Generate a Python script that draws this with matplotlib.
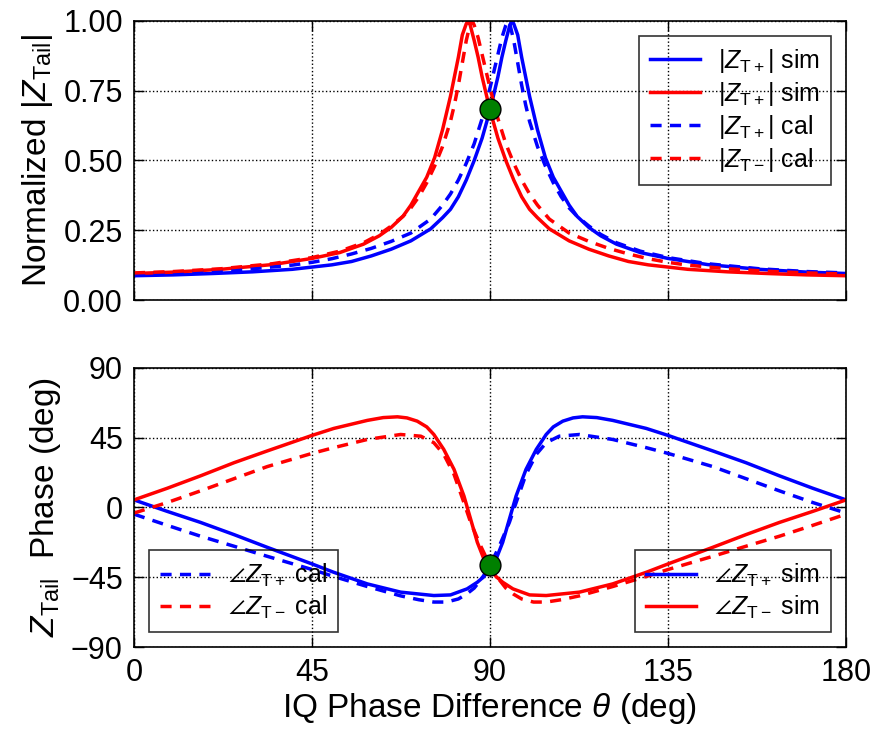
import matplotlib
matplotlib.use("Agg")
import matplotlib.pyplot as plt

plt.rcParams['font.family'] = ['Liberation Sans', 'DejaVu Sans']
plt.rcParams['mathtext.fontset'] = 'custom'
plt.rcParams['mathtext.rm'] = 'Liberation Sans'
plt.rcParams['mathtext.it'] = 'Liberation Sans:italic'
plt.rcParams['mathtext.fallback'] = 'stixsans'

# ---- top panel: normalized |Z_Tail| ----
mag_sim_p_x = [0, 10, 20, 30, 40, 50, 55, 60, 65, 70, 75, 78, 80, 82, 84, 86, 88, 89, 90,
               91, 92, 93, 94, 95, 95.5, 96, 97, 98, 99, 100, 101, 102, 104, 106, 108, 110,
               112, 115, 118, 122, 128, 135, 145, 158, 170, 180]
mag_sim_p = [0.087, 0.090, 0.095, 0.101, 0.110, 0.126, 0.138, 0.158, 0.182, 0.212, 0.255,
             0.295, 0.325, 0.37, 0.43, 0.50, 0.58, 0.63, 0.68, 0.74, 0.80, 0.87, 0.93, 0.985,
             1.0, 0.99, 0.95, 0.87, 0.80, 0.73, 0.67, 0.61, 0.51, 0.44, 0.39, 0.34, 0.30,
             0.26, 0.23, 0.20, 0.17, 0.149, 0.127, 0.11, 0.10, 0.095]

mag_sim_m_x = [0, 10, 22, 35, 45, 52, 58, 62, 65, 68, 70, 72, 74, 76, 78, 79, 80, 81, 82, 83,
               84, 84.5, 85, 86, 87, 88, 89, 90, 91, 92, 94, 96, 98, 100, 102, 105, 110, 115,
               120, 125, 130, 140, 150, 160, 170, 180]
mag_sim_m = [0.095, 0.10, 0.11, 0.127, 0.149, 0.17, 0.20, 0.23, 0.26, 0.30, 0.34, 0.39, 0.44,
             0.51, 0.61, 0.67, 0.73, 0.80, 0.87, 0.95, 0.99, 1.0, 0.985, 0.93, 0.87, 0.80,
             0.74, 0.68, 0.63, 0.58, 0.50, 0.43, 0.37, 0.325, 0.295, 0.255, 0.212, 0.182,
             0.158, 0.138, 0.126, 0.110, 0.101, 0.095, 0.090, 0.087]

mag_cal_p_x = [0, 10, 20, 30, 40, 45, 50, 55, 60, 65, 70, 72, 75, 78, 80, 82, 84, 86, 88, 90,
               91, 92, 93, 94, 94.5, 95, 96, 97, 98, 99, 100, 102, 104, 106, 108, 110, 112,
               115, 118, 122, 128, 135, 145, 158, 170, 180]
mag_cal_p = [0.093, 0.097, 0.103, 0.112, 0.125, 0.135, 0.148, 0.165, 0.185, 0.21, 0.24, 0.26,
             0.29, 0.34, 0.38, 0.43, 0.49, 0.56, 0.65, 0.76, 0.82, 0.88, 0.94, 0.985, 1.0,
             0.99, 0.93, 0.85, 0.77, 0.70, 0.64, 0.55, 0.48, 0.42, 0.37, 0.33, 0.30, 0.265,
             0.235, 0.205, 0.175, 0.152, 0.13, 0.112, 0.102, 0.097]

mag_cal_m_x = [0, 10, 22, 35, 45, 52, 58, 62, 65, 68, 70, 72, 74, 76, 78, 80, 81, 82, 83, 84,
               85, 85.5, 86, 87, 88, 89, 90, 92, 94, 96, 98, 100, 102, 105, 108, 110, 115, 120,
               125, 130, 135, 140, 150, 160, 170, 180]
mag_cal_m = [0.097, 0.102, 0.112, 0.13, 0.152, 0.175, 0.205, 0.235, 0.265, 0.30, 0.33, 0.37,
             0.42, 0.48, 0.55, 0.64, 0.70, 0.77, 0.85, 0.93, 0.99, 1.0, 0.985, 0.94, 0.88,
             0.82, 0.76, 0.65, 0.56, 0.49, 0.43, 0.38, 0.34, 0.29, 0.26, 0.24, 0.21, 0.185,
             0.165, 0.148, 0.135, 0.125, 0.112, 0.103, 0.097, 0.093]

# ---- bottom panel: phase of Z_Tail (deg) ----
ph_sim_p_x = [0, 8.4, 16.8, 25.3, 33.7, 45, 50.5, 59, 67.4, 75.8, 80, 84.2, 86.8, 88.5, 90,
              91.5, 93.2, 94.9, 96.6, 99.1, 101.7, 104.2, 106, 108.4, 111, 113.4, 117, 121,
              129.5, 135, 146.3, 154.7, 163.2, 171.6, 180]
ph_sim_p = [4.9, -2.5, -9.6, -17.5, -25.7, -36.4, -41.8, -49.3, -54.6, -56.8, -56.4, -52.5,
            -48.2, -44.5, -39, -33.5, -22.5, -7.5, 7.5, 24.6, 37.5, 47.1, 52, 55.7, 57.8, 58.5,
            58, 56.2, 51, 46.5, 36.5, 28.9, 20.4, 12.4, 4.9]

ph_sim_m_x = [0, 8.4, 16.8, 25.3, 33.7, 45, 50.5, 59, 63, 66.6, 69, 71.6, 74, 75.8, 78.3,
              80.9, 83.4, 85.1, 86.8, 88.5, 90, 91.5, 93.2, 95.8, 100, 104.2, 112.6, 121,
              129.5, 135, 146.3, 154.7, 163.2, 171.6, 180]
ph_sim_m = [4.9, 12.4, 20.4, 28.9, 36.5, 46.5, 51, 56.2, 58, 58.5, 57.8, 55.7, 52, 47.1, 37.5,
            24.6, 7.5, -7.5, -22.5, -33.5, -39, -44.5, -48.2, -52.5, -56.4, -56.8, -54.6,
            -49.3, -41.8, -36.4, -25.7, -17.5, -9.6, -2.5, 4.9]

ph_cal_p_x = [0, 8.4, 16.8, 25.3, 33.7, 45, 50.5, 59, 67.4, 72, 75.8, 79, 82, 84, 86, 88, 90,
              92.4, 94.9, 96.6, 99.1, 101.7, 104.2, 107.5, 112.6, 121, 129.5, 135, 146.3,
              154.7, 163.2, 171.6, 180]
ph_cal_p = [-4.3, -11.5, -18.5, -25, -31.5, -40, -44.5, -51, -57, -59.5, -61, -61, -59, -56,
            -52, -45.5, -37.5, -24.6, -9.6, 3.2, 21.4, 34.3, 41.8, 46, 47.1, 43.9, 38.6, 34.9,
            26.4, 18.6, 10.7, 3.2, -3.6]

ph_cal_m_x = [0, 8.4, 16.8, 25.3, 33.7, 45, 50.5, 59, 67.4, 72.5, 75.8, 78.3, 80.9, 83.4,
              85.1, 87.6, 90, 92, 94, 96, 98, 101, 104.2, 108, 112.6, 121, 129.5, 135, 146.3,
              154.7, 163.2, 171.6, 180]
ph_cal_m = [-3.6, 3.2, 10.7, 18.6, 26.4, 34.9, 38.6, 43.9, 47.1, 46, 41.8, 34.3, 21.4, 3.2,
            -9.6, -24.6, -37.5, -45.5, -52, -56, -59, -61, -61, -59.5, -57, -51, -44.5, -40,
            -31.5, -25, -18.5, -11.5, -4.3]

# crossing markers
dot_x = [90]
dot_mag = [0.683]
dot_ph = [-37]

xticks = [0, 45, 90, 135, 180]
mag_ticks = [0.0, 0.25, 0.5, 0.75, 1.0]
ph_ticks = [-90, -45, 0, 45, 90]

lw = 2.5
dash = (0, (3.2, 2.4))
fs_tick = 22
fs_label = 24
fs_leg = 18

fig = plt.figure(figsize=(8.78, 7.31), dpi=100)
ax1 = fig.add_axes([0.1526, 0.5896, 0.8110, 0.3817])
ax2 = fig.add_axes([0.1526, 0.1149, 0.8110, 0.3817])

ax1.plot(mag_sim_p_x, mag_sim_p, color='blue', lw=lw, label=r'$|Z_{\rm T+}|$ sim')
ax1.plot(mag_sim_m_x, mag_sim_m, color='red', lw=lw, label=r'$|Z_{\rm T+}|$ sim')
ax1.plot(mag_cal_p_x, mag_cal_p, color='blue', lw=lw, ls=dash, label=r'$|Z_{\rm T+}|$ cal')
ax1.plot(mag_cal_m_x, mag_cal_m, color='red', lw=lw, ls=dash, label=r'$|Z_{\rm T-}|$ cal')
ax1.plot(dot_x, dot_mag, 'o', color='green', mec='black', mew=1, ms=15, zorder=5)

sp, = ax2.plot(ph_sim_p_x, ph_sim_p, color='blue', lw=lw, label=r'$\angle Z_{\rm T+}$ sim')
sm, = ax2.plot(ph_sim_m_x, ph_sim_m, color='red', lw=lw, label=r'$\angle Z_{\rm T-}$ sim')
cp, = ax2.plot(ph_cal_p_x, ph_cal_p, color='blue', lw=lw, ls=dash, label=r'$\angle Z_{\rm T+}$ cal')
cm, = ax2.plot(ph_cal_m_x, ph_cal_m, color='red', lw=lw, ls=dash, label=r'$\angle Z_{\rm T-}$ cal')
ax2.plot(dot_x, dot_ph, 'o', color='green', mec='black', mew=1, ms=15, zorder=5)

for ax in (ax1, ax2):
    ax.set_xlim(0, 180)
    ax.set_xticks(xticks)
    ax.grid(True, color='black', linestyle=':', linewidth=1)
    ax.tick_params(direction='in', top=True, right=True, length=7, width=1,
                   labelsize=fs_tick, pad=8)
    for s in ax.spines.values():
        s.set_linewidth(1.2)

ax1.set_ylim(0, 1)
ax1.set_yticks(mag_ticks)
ax1.set_yticklabels(['0.00', '0.25', '0.50', '0.75', '1.00'])
ax1.tick_params(labelbottom=False)
ax1.set_ylabel(r'Normalized $|Z_{\rm Tail}|$', fontsize=fs_label, labelpad=6)

ax2.set_ylim(-90, 90)
ax2.set_yticks(ph_ticks)
ax2.set_ylabel(r'$Z_{\rm Tail}$  Phase (deg)', fontsize=fs_label, labelpad=6)
ax2.set_xlabel(r'IQ Phase Difference $\theta$ (deg)', fontsize=fs_label, labelpad=2)

leg_kw = dict(fontsize=fs_leg, fancybox=False, edgecolor='black', facecolor='none',
              borderpad=0.45, labelspacing=0.2, handlelength=2.0, handletextpad=0.7)
l1 = ax1.legend(loc='upper right', borderaxespad=0.6, **leg_kw)
l1.get_frame().set_linewidth(1.2)

la = ax2.legend(handles=[cp, cm], loc='lower left', borderaxespad=0.6, **leg_kw)
la.get_frame().set_linewidth(1.2)
ax2.add_artist(la)
lb = ax2.legend(handles=[sp, sm], loc='lower right', borderaxespad=0.6, **leg_kw)
lb.get_frame().set_linewidth(1.2)

fig.savefig('out.png', dpi=100)
